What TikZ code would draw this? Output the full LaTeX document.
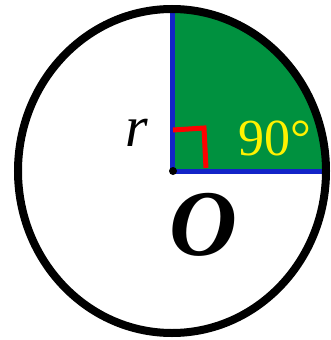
\documentclass[tikz,border=0pt]{standalone}
\usepackage{fontspec}
\setmainfont{Liberation Serif}
\definecolor{sectorgreen}{HTML}{00913F}
\definecolor{radiusblue}{HTML}{1224C8}
\begin{document}
\begin{tikzpicture}[x=1pt,y=-1pt]
\useasboundingbox (0,0) rectangle (330,340);

% Quarter sector
\fill[sectorgreen] (172,171) -- (172,9) arc[start angle=-90,end angle=0,x radius=154,y radius=162] -- cycle;

% Radii
\draw[radiusblue,line width=5pt] (172,9) -- (172,171) -- (326,171);

% Right angle mark
\draw[red,line width=5pt] (173,130) -- (204,128) -- (206,168);

% Circle and centre
\draw[line width=8pt] (172,171) ellipse[x radius=154,y radius=162];
\fill (173,171) circle (4);

% Labels
\node (rlabel) at (137,133) {\fontsize{58}{58}\selectfont\textit{r}};
\node[yellow] (anglelabel) at (275,138) {\fontsize{52}{52}\selectfont 90°};
\node (olabel) at (203,225) {\fontsize{94}{94}\selectfont\textbf{\textit{O}}};

\end{tikzpicture}
\end{document}
